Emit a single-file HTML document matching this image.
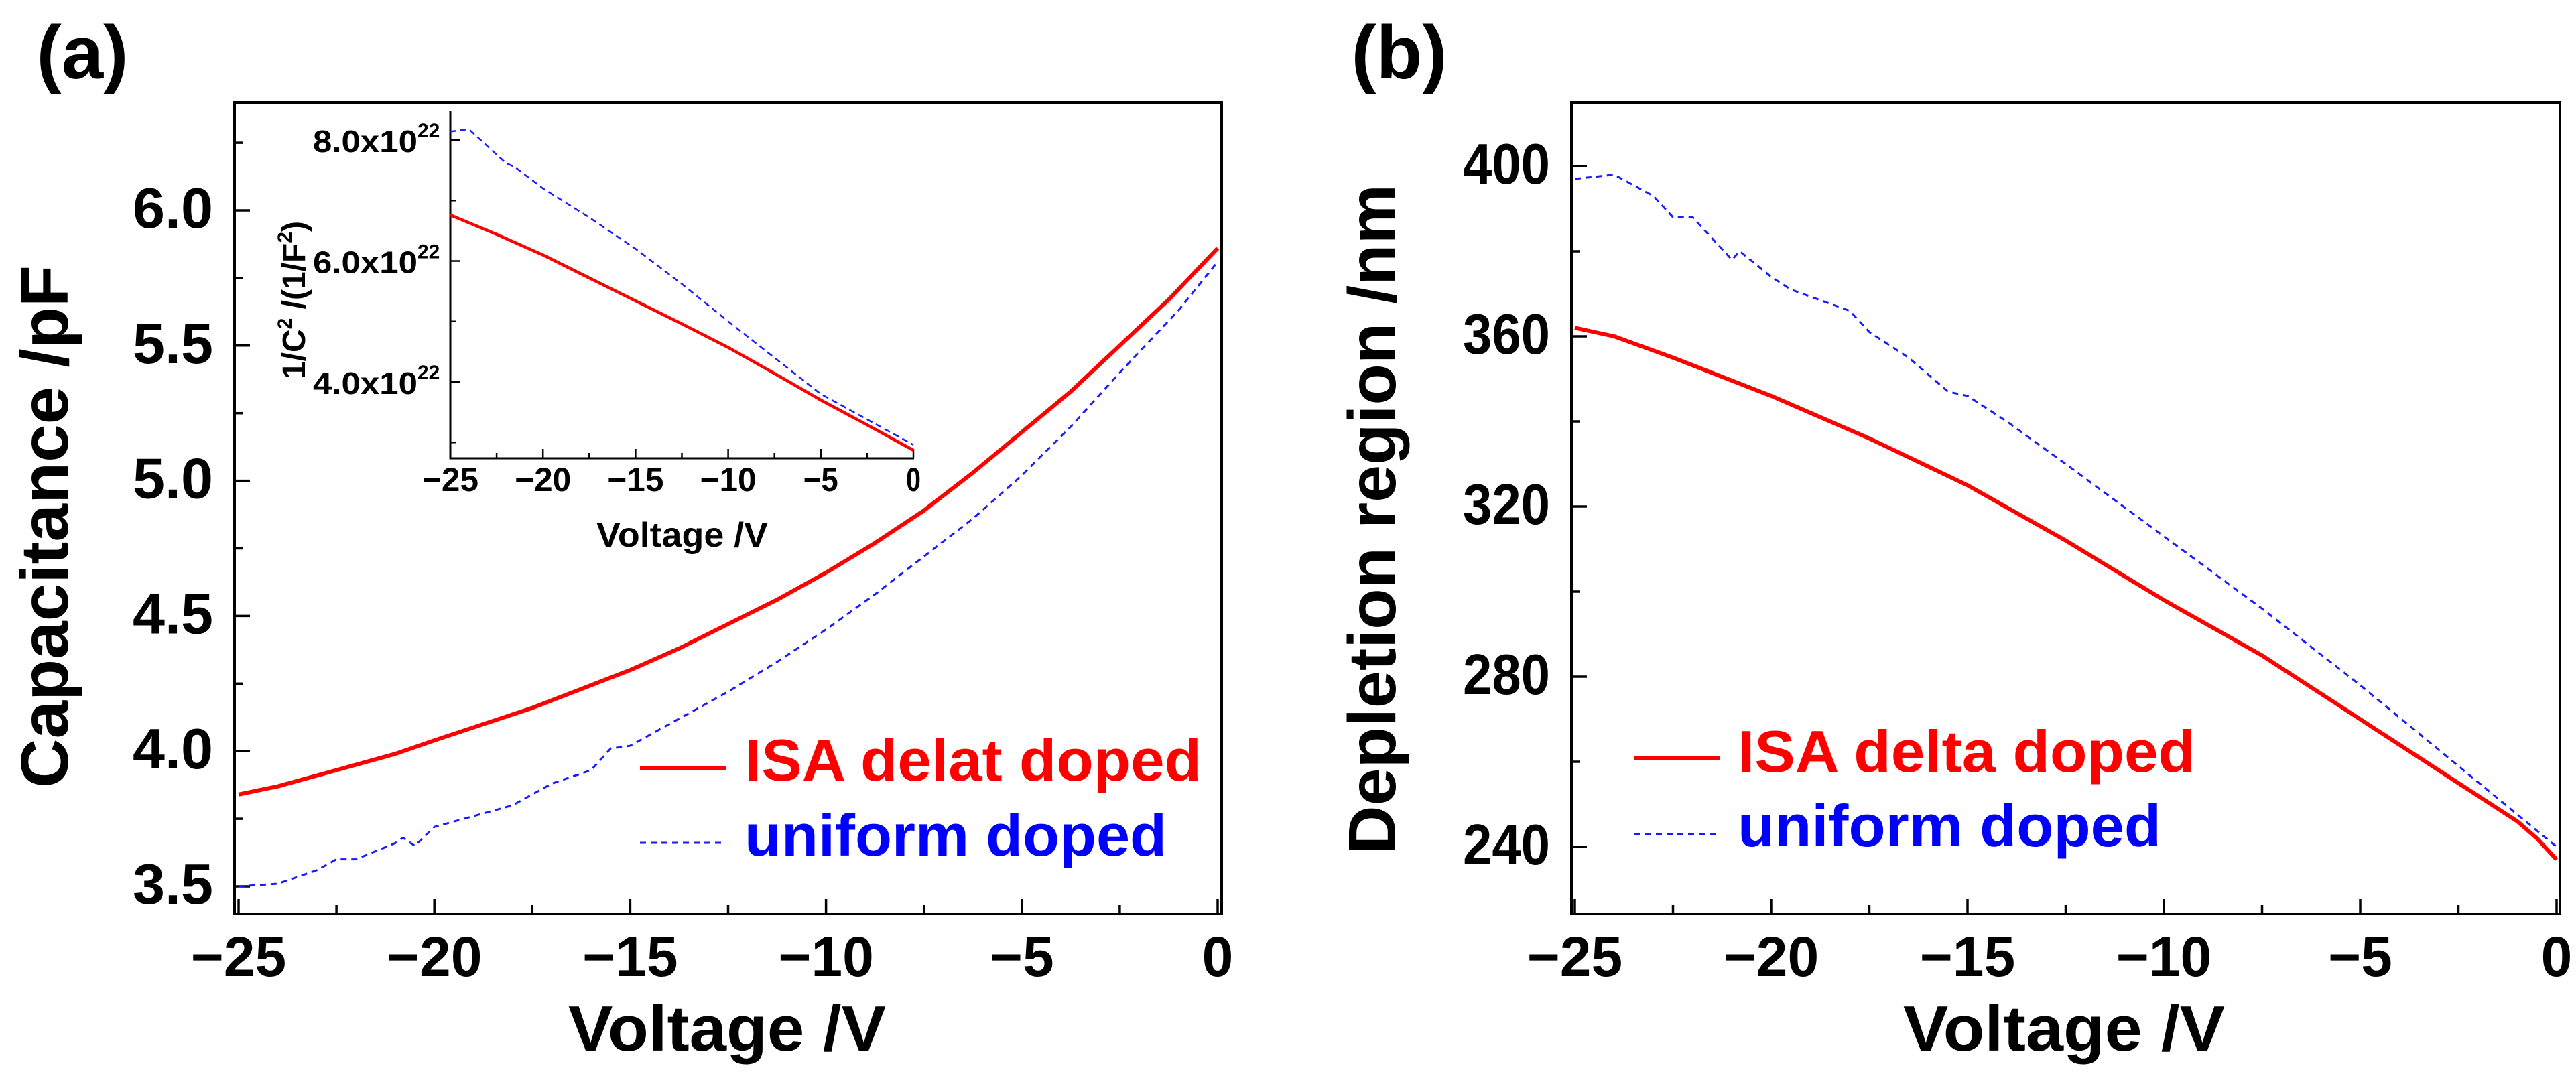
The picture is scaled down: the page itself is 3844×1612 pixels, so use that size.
<!DOCTYPE html>
<html><head><meta charset="utf-8"><style>
html,body{margin:0;padding:0;background:#fff;}
svg{display:block;font-family:"Liberation Sans",Arial,sans-serif;font-weight:bold;}
</style></head><body>
<svg id="fig" width="3844" height="1612" viewBox="0 0 3844 1612" xmlns="http://www.w3.org/2000/svg">
<rect width="3844" height="1612" fill="#fff"/>
</svg>
<script>
// ---- data ----
const voltA = [-25,-24,-22.5,-21,-20,-18.75,-17.5,-16.25,-15,-13.75,-12.5,-11.25,-10,-8.75,-7.5,-6.25,-5,-3.75,-2.5,-1.25,0];
const capDelta = [3.84,3.87,3.93,3.99,4.04,4.10,4.16,4.23,4.30,4.38,4.47,4.56,4.66,4.77,4.89,5.03,5.18,5.33,5.50,5.67,5.86];
const voltAU = [-25,-24,-23,-22.5,-22,-21,-20.8,-20.5,-20,-18,-17,-16,-15.5,-15,-14,-12.5,-11.25,-10,-8.75,-7.5,-6.25,-5,-3.75,-2.5,-1,0];
const capUniform = [3.50,3.51,3.56,3.60,3.60,3.66,3.68,3.65,3.72,3.80,3.88,3.93,4.01,4.02,4.10,4.22,4.33,4.45,4.58,4.72,4.86,5.02,5.20,5.40,5.63,5.81];
const voltIn = [-25,-22.5,-20,-17.5,-15,-12.5,-10,-7.5,-5,-2.5,0];
const invDelta = [6.76,6.44,6.10,5.72,5.34,4.96,4.57,4.14,3.70,3.29,2.87];
const voltInU = [-25,-24,-22,-21.5,-20,-17.5,-15,-12.5,-10,-7.5,-5,-2.5,0];
const invUniform = [8.14,8.18,7.62,7.55,7.2,6.72,6.2,5.62,5.0,4.40,3.80,3.38,2.96];
const voltB = [-25,-24,-22.5,-20,-17.5,-15,-12.5,-10,-7.5,-5,-2.5,-1,-0.5,0];
const depDelta = [362,360,355,346,336,325,312,298,285,270,255,246,242,237];
const voltBU = [-25,-24,-23,-22.5,-22,-21.5,-21,-20.8,-20,-19.5,-18,-17.5,-16.5,-15.5,-15,-14,-12.5,-10,-7.5,-5,-2.5,0];
const depUniform = [397,398,393,388,388,383,378,380,374,371,366,361,355,347,346,340,330,313,296,278,259,240];
const xTicks = [-25,-20,-15,-10,-5,0];
const xTickLabels = ["\u221225","\u221220","\u221215","\u221210","\u22125","0"];
const yTicksA = [3.5,4.0,4.5,5.0,5.5,6.0];
const yTickLabelsA = ["3.5","4.0","4.5","5.0","5.5","6.0"];
const yTicksIn = [4,6,8];
const yTickLabelsIn = ["4.0x10","6.0x10","8.0x10"];
const yTicksB = [240,280,320,360,400];
const yTickLabelsB = ["240","280","320","360","400"];

const NS="http://www.w3.org/2000/svg";
const svg=document.getElementById('fig');
function mk(tag,attrs,parent){const e=document.createElementNS(NS,tag);for(const k in attrs)e.setAttribute(k,attrs[k]);(parent||svg).appendChild(e);return e;}
function lin(d0,d1,r0,r1){return v=>r0+(v-d0)*(r1-r0)/(d1-d0);}
function pathD(xs,ys,sx,sy){return xs.map((x,i)=>(i?'L':'M')+sx(x).toFixed(1)+','+sy(ys[i]).toFixed(1)).join(' ');}

function txt(s,x,y,size,opts,parent){
  const t=mk('text',{x:x,y:y,'font-size':size},parent);
  if(opts.anchor)t.setAttribute('text-anchor',opts.anchor);
  if(opts.fill)t.setAttribute('fill',opts.fill);
  if(opts.len){t.setAttribute('textLength',opts.len);t.setAttribute('lengthAdjust','spacingAndGlyphs');}
  if(opts.rot)t.setAttribute('transform','rotate(-90 '+x+' '+y+')');
  t.textContent=s;return t;
}

// ---------- Panel A ----------
const gA=mk('g',{});


const ax=lin(-25,0,356,1817), ay=lin(3.5,6.0,1323,314);
const fa=mk('rect',{x:350,y:153,width:1473,height:1211,fill:'none',stroke:'#000','stroke-width':4},gA);


for(let v=-25;v<=0;v+=2.5){const maj=v%5===0;const t=mk('line',{x1:ax(v),x2:ax(v),y1:1364,y2:1364-(maj?22:13),stroke:'#000','stroke-width':3.5},gA);}
for(let v=3.5;v<=6.26;v+=0.25){const maj=Math.abs(v*2-Math.round(v*2))<1e-6;const t=mk('line',{x1:350,x2:350+(maj?23:13),y1:ay(v),y2:ay(v),stroke:'#000','stroke-width':3.5},gA);}
xTicks.forEach((v,i)=>{const t=txt(xTickLabels[i],ax(v),1457,84,{anchor:'middle'},gA);});
yTicksA.forEach((v,i)=>{const t=txt(yTickLabelsA[i],318,ay(v)+26,85,{anchor:'end',len:120},gA);});
let t=txt('Voltage /V',1085,1568,96,{anchor:'middle',len:474},gA);
t=txt('Capacitance /pF',101,786,100,{anchor:'middle',rot:true,len:780},gA);
t=txt('(a)',123,117,112,{anchor:'middle'},gA);
let p=mk('path',{d:pathD(voltA,capDelta,ax,ay),fill:'none',stroke:'#ff0000','stroke-width':6,'stroke-linejoin':'round'},gA);

p=mk('path',{d:pathD(voltAU,capUniform,ax,ay),fill:'none',stroke:'#1a1aff','stroke-width':3,'stroke-dasharray':'9 7'},gA);

// legend a
let lg=mk('g',{},gA);
let l=mk('line',{x1:955,x2:1083,y1:1146,y2:1146,stroke:'#ff0000','stroke-width':6},lg);
t=txt('ISA delat doped',1111,1165,88,{fill:'#ff0000',len:682},lg);
l=mk('line',{x1:955,x2:1076,y1:1258,y2:1258,stroke:'#1a1aff','stroke-width':3,'stroke-dasharray':'9 7'},lg);
t=txt('uniform doped',1111,1277,88,{fill:'#0000ff',len:630},lg);

// ---------- Inset ----------
const gI=mk('g',{},gA);


const ix=lin(-25,0,672,1363), iy=lin(4,8,570,209);
l=mk('path',{d:'M672,165 L672,684 L1364,684',fill:'none',stroke:'#000','stroke-width':3},gI);
for(let v=-25;v<=0;v+=2.5){const maj=v%5===0;const k=mk('line',{x1:ix(v),x2:ix(v),y1:684,y2:684-(maj?14:8),stroke:'#000','stroke-width':2.5},gI);}
for(let v=3;v<=8.01;v+=1){const maj=v%2===0;const k=mk('line',{x1:672,x2:672+(maj?14:8),y1:iy(v),y2:iy(v),stroke:'#000','stroke-width':2.5},gI);}
xTicks.forEach((v,i)=>{const k=txt(xTickLabels[i],ix(v),733,50,{anchor:'middle',len:xTickLabels[i].length===1?22:(xTickLabels[i].length===2?52:84)},gI);});
yTicksIn.forEach((v,i)=>{const g=mk('text',{x:467,y:iy(v)+18,'font-size':46},gI);
  const a=mk('tspan',{textLength:156,lengthAdjust:'spacingAndGlyphs'},g);a.textContent=yTickLabelsIn[i];
  const b=mk('tspan',{dy:-22,'font-size':30},g);b.textContent='22';});
t=txt('Voltage /V',1018,816,52,{anchor:'middle',len:256},gI);
let yt=mk('text',{x:455,y:448,'font-size':48,'text-anchor':'middle',transform:'rotate(-90 455 448)'},gI);

[['1/C',0,48],['2',-20,30],[' /(1/F',20,48],['2',-20,30],[')',20,48]].forEach(s=>{const ts=mk('tspan',{dy:s[1],'font-size':s[2]},yt);ts.textContent=s[0];});
p=mk('path',{d:pathD(voltIn,invDelta,ix,iy),fill:'none',stroke:'#ff0000','stroke-width':4.5,'stroke-linejoin':'round'},gI);

p=mk('path',{d:pathD(voltInU,invUniform,ix,iy),fill:'none',stroke:'#1a1aff','stroke-width':2.5,'stroke-dasharray':'9 6'},gI);


// ---------- Panel B ----------
const gB=mk('g',{});


const bx=lin(-25,0,2350,3815), by=lin(240,400,1264,248);
const fb=mk('rect',{x:2345,y:153,width:1475,height:1211,fill:'none',stroke:'#000','stroke-width':4},gB);

for(let v=-25;v<=0;v+=2.5){const maj=v%5===0;const k=mk('line',{x1:bx(v),x2:bx(v),y1:1364,y2:1364-(maj?22:13),stroke:'#000','stroke-width':3.5},gB);}
for(let v=240;v<=400;v+=20){const maj=v%40===0;const k=mk('line',{x1:2345,x2:2345+(maj?23:13),y1:by(v),y2:by(v),stroke:'#000','stroke-width':3.5},gB);}
xTicks.forEach((v,i)=>{const k=txt(xTickLabels[i],bx(v),1457,84,{anchor:'middle'},gB);});
yTicksB.forEach((v,i)=>{const k=txt(yTickLabelsB[i],2313,by(v)+26,85,{anchor:'end',len:130},gB);});
t=txt('Voltage /V',3080,1568,96,{anchor:'middle',len:480},gB);
t=txt('Depletion region /nm',2082,775,100,{anchor:'middle',rot:true,len:1000},gB);
t=txt('(b)',2088,117,112,{anchor:'middle'},gB);
p=mk('path',{d:pathD(voltB,depDelta,bx,by),fill:'none',stroke:'#ff0000','stroke-width':6,'stroke-linejoin':'round'},gB);

p=mk('path',{d:pathD(voltBU,depUniform,bx,by),fill:'none',stroke:'#1a1aff','stroke-width':3,'stroke-dasharray':'9 7'},gB);

lg=mk('g',{},gB);
l=mk('line',{x1:2439,x2:2567,y1:1132,y2:1132,stroke:'#ff0000','stroke-width':6},lg);
t=txt('ISA delta doped',2593,1152,88,{fill:'#ff0000',len:683},lg);
l=mk('line',{x1:2439,x2:2562,y1:1245,y2:1245,stroke:'#1a1aff','stroke-width':3,'stroke-dasharray':'9 7'},lg);
t=txt('uniform doped',2593,1263,88,{fill:'#0000ff',len:632},lg);
</script>
</body></html>
